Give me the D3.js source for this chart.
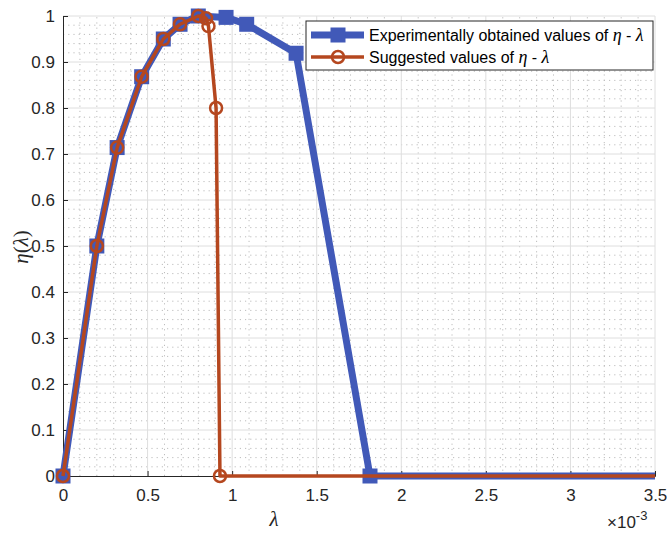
<!DOCTYPE html>
<html lang="en">
<head>
<meta charset="utf-8">
<title>eta - lambda</title>
<script src="https://cdn.jsdelivr.net/npm/d3@7"></script>
<style>
  body { margin: 0; background: #fff; }
  .tick-label { font-family: "Liberation Sans", Arial, sans-serif; font-size: 17px; fill: #262626; }
  .legend-text { font-family: "Liberation Sans", Arial, sans-serif; font-size: 16px; fill: #000; }
  .math { font-family: "Liberation Serif", "DejaVu Serif", serif; font-style: italic; }
</style>
</head>
<body>
<svg width="667" height="534"></svg>
<script>
// lambda values in units of 1e-3
const expX = [0, 0.2, 0.32, 0.465, 0.593, 0.692, 0.80, 0.964, 1.086, 1.378, 1.815, 3.5];
const expY = [0, 0.5, 0.714, 0.868, 0.95, 0.982, 1.0, 0.997, 0.982, 0.919, 0, 0];
const sugX = [0, 0.2, 0.32, 0.465, 0.593, 0.692, 0.80, 0.846, 0.86, 0.905, 0.928, 3.5];
const sugY = [0, 0.5, 0.714, 0.868, 0.95, 0.982, 1.0, 0.995, 0.978, 0.8, 0, 0];
const xTicks = [0, 0.5, 1, 1.5, 2, 2.5, 3, 3.5];
const yTicks = [0, 0.1, 0.2, 0.3, 0.4, 0.5, 0.6, 0.7, 0.8, 0.9, 1];
const legendLabels = ["Experimentally obtained values of ", "Suggested values of "];

const blue = "#4159b8", red = "#b5471f";

const svg = d3.select("svg");
const x = d3.scaleLinear().domain([0, 3.5]).range([63, 655]);
const y = d3.scaleLinear().domain([0, 1]).range([476, 16]);

// minor grid
const minorX = d3.range(0, 3.5001, 0.1).filter(v => Math.abs(v * 2 - Math.round(v * 2)) > 1e-6);
const minorY = d3.range(0, 1.0001, 0.02).filter(v => Math.abs(v * 10 - Math.round(v * 10)) > 1e-6);
const grid = svg.append("g");
grid.selectAll("line.mx").data(minorX).join("line")
  .attr("x1", d => x(d)).attr("x2", d => x(d)).attr("y1", y(0)).attr("y2", y(1))
  .attr("stroke", "#bdbdbd").attr("stroke-width", 1).attr("stroke-dasharray", "1.2,4");
grid.selectAll("line.my").data(minorY).join("line")
  .attr("y1", d => y(d)).attr("y2", d => y(d)).attr("x1", x(0)).attr("x2", x(3.5))
  .attr("stroke", "#bdbdbd").attr("stroke-width", 1).attr("stroke-dasharray", "1.2,4");
// major grid
grid.selectAll("line.gx").data(xTicks.slice(1)).join("line")
  .attr("x1", d => x(d)).attr("x2", d => x(d)).attr("y1", y(0)).attr("y2", y(1))
  .attr("stroke", "#dedede").attr("stroke-width", 1);
grid.selectAll("line.gy").data(yTicks.slice(1)).join("line")
  .attr("y1", d => y(d)).attr("y2", d => y(d)).attr("x1", x(0)).attr("x2", x(3.5))
  .attr("stroke", "#dedede").attr("stroke-width", 1);

// axes
const xAxis = svg.append("g").attr("transform", `translate(0,${y(0)})`)
  .call(d3.axisBottom(x).tickValues(xTicks).tickSize(-5).tickPadding(10).tickFormat(d3.format("~g")));
const yAxis = svg.append("g").attr("transform", `translate(${x(0)},0)`)
  .call(d3.axisLeft(y).tickValues(yTicks).tickSize(-5).tickPadding(8).tickFormat(d3.format("~g")));
[xAxis, yAxis].forEach(a => {
  a.select(".domain").attr("stroke", "#262626").attr("stroke-width", 1);
  a.selectAll(".tick line").attr("stroke", "#262626");
  a.selectAll(".tick text").attr("class", "tick-label").attr("font-size", null).attr("font-family", null);
});
xAxis.selectAll(".tick text").attr("dy", "0.9em");

// labels
svg.append("text").attr("class", "math").attr("x", 274).attr("y", 526)
  .attr("text-anchor", "middle").attr("font-size", 21).attr("fill", "#262626").text("λ");
const yl = svg.append("text").attr("transform", "translate(28,247) rotate(-90)")
  .attr("text-anchor", "middle").attr("font-size", 21).attr("fill", "#262626");
yl.append("tspan").attr("class", "math").text("η");
yl.append("tspan").attr("font-family", "Liberation Serif, serif").text("(");
yl.append("tspan").attr("class", "math").text("λ");
yl.append("tspan").attr("font-family", "Liberation Serif, serif").text(")");

const exp = svg.append("text").attr("x", 607).attr("y", 528)
  .attr("font-family", "Liberation Sans, Arial, sans-serif").attr("font-size", 17).attr("fill", "#262626");
exp.append("tspan").text("×10");
exp.append("tspan").attr("dy", -8).attr("font-size", 13).text("-3");

// series
const line = d3.line().x(d => x(d[0])).y(d => y(d[1]));
const expData = d3.zip(expX, expY);
const sugData = d3.zip(sugX, sugY);

svg.append("path").datum(expData).attr("d", line)
  .attr("fill", "none").attr("stroke", blue).attr("stroke-width", 7).attr("stroke-linejoin", "round");
svg.selectAll("rect.exp").data(expData.filter(d => d[0] < 3.5)).join("rect")
  .attr("x", d => x(d[0]) - 7.5).attr("y", d => y(d[1]) - 7.5).attr("width", 15).attr("height", 15)
  .attr("fill", blue);

svg.append("path").datum(sugData).attr("d", line)
  .attr("fill", "none").attr("stroke", red).attr("stroke-width", 3.5).attr("stroke-linejoin", "round");
svg.selectAll("circle.sug").data(sugData.filter(d => d[0] < 3.5)).join("circle")
  .attr("cx", d => x(d[0])).attr("cy", d => y(d[1])).attr("r", 6)
  .attr("fill", "none").attr("stroke", red).attr("stroke-width", 2.5);

// legend
const lg = svg.append("g");
lg.append("rect").attr("x", 306).attr("y", 21).attr("width", 347).attr("height", 49)
  .attr("fill", "#fff").attr("stroke", "#262626").attr("stroke-width", 1);
const rows = [35, 57];
lg.append("line").attr("x1", 311).attr("x2", 364).attr("y1", rows[0]).attr("y2", rows[0])
  .attr("stroke", blue).attr("stroke-width", 7);
lg.append("rect").attr("x", 330.5).attr("y", rows[0] - 7.5).attr("width", 15).attr("height", 15).attr("fill", blue);
lg.append("line").attr("x1", 311).attr("x2", 364).attr("y1", rows[1]).attr("y2", rows[1])
  .attr("stroke", red).attr("stroke-width", 3.5);
lg.append("circle").attr("cx", 338).attr("cy", rows[1]).attr("r", 6)
  .attr("fill", "none").attr("stroke", red).attr("stroke-width", 2.5);
legendLabels.forEach((lab, i) => {
  const t = lg.append("text").attr("class", "legend-text").attr("x", 369).attr("y", rows[i] + 6);
  t.append("tspan").text(lab);
  t.append("tspan").attr("class", "math").attr("font-size", 18).text("η");
  t.append("tspan").text(" - ");
  t.append("tspan").attr("class", "math").attr("font-size", 18).text("λ");
});
</script>
</body>
</html>
